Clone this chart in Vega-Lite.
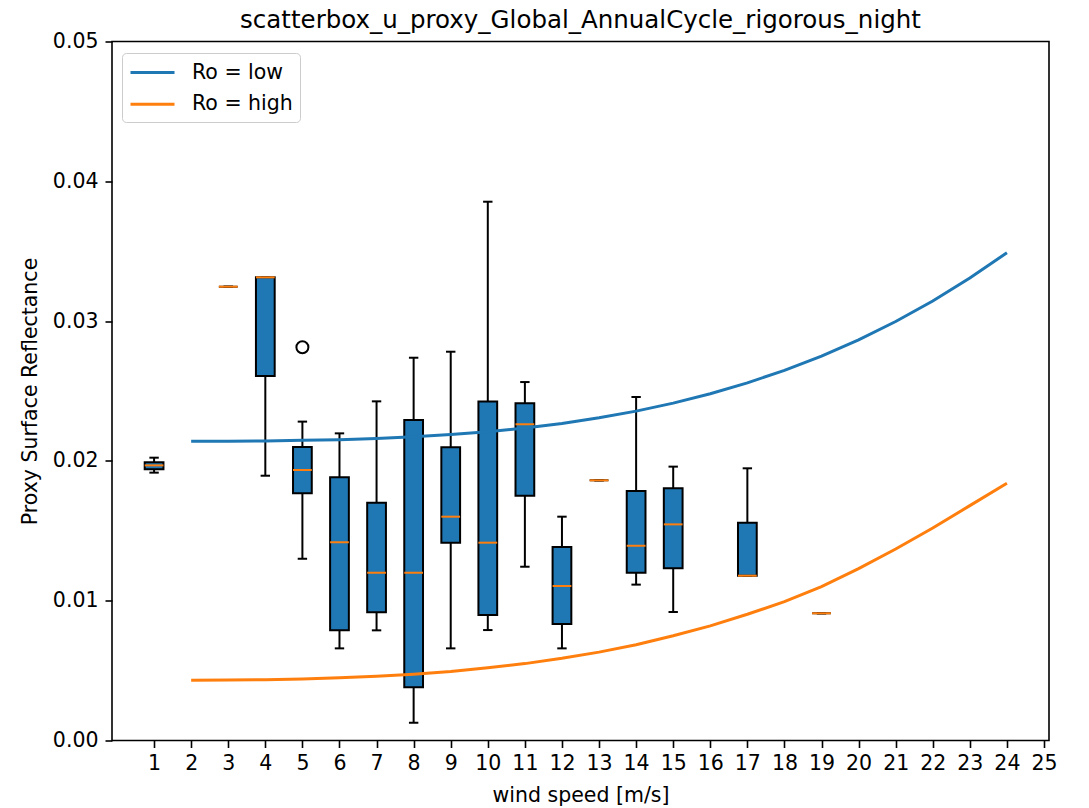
{
  "$schema": "https://vega.github.io/schema/vega-lite/v6.json",
  "width": 937,
  "height": 699,
  "autosize": {"type": "none"},
  "padding": {"left": 112, "top": 41.5, "right": 40, "bottom": 67.5},
  "background": "white",
  "title": {
    "text": "scatterbox_u_proxy_Global_AnnualCycle_rigorous_night",
    "font": "DejaVu Sans",
    "fontSize": 24.5,
    "fontWeight": "normal",
    "color": "black",
    "anchor": "middle",
    "offset": -2
  },
  "config": {
    "view": {"stroke": "black", "strokeWidth": 1.6},
    "axis": {
      "domain": false,
      "grid": false,
      "ticks": true,
      "tickColor": "black",
      "tickWidth": 1.6,
      "tickSize": 7,
      "labelOverlap": false,
      "labelFlush": false,
      "labelFont": "DejaVu Sans",
      "labelFontSize": 20.5,
      "labelColor": "black",
      "titleFont": "DejaVu Sans",
      "titleFontSize": 20.5,
      "titleFontWeight": "normal",
      "titleColor": "black"
    },
    "legend": {
      "orient": "none",
      "legendX": 10,
      "legendY": 11.5,
      "padding": 7,
      "strokeColor": "#cccccc",
      "cornerRadius": 4,
      "fillColor": "white",
      "labelFont": "DejaVu Sans",
      "labelFontSize": 20.5,
      "labelColor": "black",
      "symbolType": "M-2,0H2",
      "symbolSize": 484,
      "symbolOffset": 11,
      "symbolStrokeWidth": 3,
      "rowPadding": 8.7,
      "labelOffset": 27
    }
  },
  "datasets": {
    "boxes": [
      {"speed": 1, "lo": 0.01916, "q1": 0.0194, "med": 0.01968, "q3": 0.0199, "hi": 0.02023},
      {"speed": 3, "lo": 0.03246, "q1": 0.03246, "med": 0.03246, "q3": 0.03246, "hi": 0.03246},
      {"speed": 4, "lo": 0.01894, "q1": 0.02607, "med": 0.03313, "q3": 0.03313, "hi": 0.03313},
      {"speed": 5, "lo": 0.0130, "q1": 0.01768, "med": 0.01935, "q3": 0.02099, "hi": 0.02281},
      {"speed": 6, "lo": 0.00659, "q1": 0.00788, "med": 0.01418, "q3": 0.01883, "hi": 0.02197},
      {"speed": 7, "lo": 0.00788, "q1": 0.00917, "med": 0.0120, "q3": 0.01701, "hi": 0.02426},
      {"speed": 8, "lo": 0.00127, "q1": 0.00381, "med": 0.0120, "q3": 0.02293, "hi": 0.02738},
      {"speed": 9, "lo": 0.00659, "q1": 0.01415, "med": 0.01601, "q3": 0.02097, "hi": 0.02781},
      {"speed": 10, "lo": 0.0079, "q1": 0.00898, "med": 0.01415, "q3": 0.02424, "hi": 0.03854},
      {"speed": 11, "lo": 0.01243, "q1": 0.01751, "med": 0.02262, "q3": 0.02412, "hi": 0.02564},
      {"speed": 12, "lo": 0.00659, "q1": 0.00833, "med": 0.01105, "q3": 0.01384, "hi": 0.01601},
      {"speed": 13, "lo": 0.01861, "q1": 0.01861, "med": 0.01861, "q3": 0.01861, "hi": 0.01861},
      {"speed": 14, "lo": 0.01115, "q1": 0.0120, "med": 0.01393, "q3": 0.01785, "hi": 0.02457},
      {"speed": 15, "lo": 0.00919, "q1": 0.01232, "med": 0.01546, "q3": 0.01804, "hi": 0.01959},
      {"speed": 17, "lo": 0.01179, "q1": 0.01179, "med": 0.01179, "q3": 0.01558, "hi": 0.01947},
      {"speed": 19, "lo": 0.0091, "q1": 0.0091, "med": 0.0091, "q3": 0.0091, "hi": 0.0091}
    ],
    "outliers": [
      {"speed": 5, "value": 0.02813}
    ],
    "curves": [
      {"series": "Ro = low", "speed": 2, "value": 0.0214},
      {"series": "Ro = low", "speed": 3, "value": 0.02141},
      {"series": "Ro = low", "speed": 4, "value": 0.02143},
      {"series": "Ro = low", "speed": 5, "value": 0.02147},
      {"series": "Ro = low", "speed": 6, "value": 0.02152},
      {"series": "Ro = low", "speed": 7, "value": 0.0216},
      {"series": "Ro = low", "speed": 8, "value": 0.02172},
      {"series": "Ro = low", "speed": 9, "value": 0.02188},
      {"series": "Ro = low", "speed": 10, "value": 0.02209},
      {"series": "Ro = low", "speed": 11, "value": 0.02235},
      {"series": "Ro = low", "speed": 12, "value": 0.02268},
      {"series": "Ro = low", "speed": 13, "value": 0.02308},
      {"series": "Ro = low", "speed": 14, "value": 0.02356},
      {"series": "Ro = low", "speed": 15, "value": 0.02413},
      {"series": "Ro = low", "speed": 16, "value": 0.0248},
      {"series": "Ro = low", "speed": 17, "value": 0.02558},
      {"series": "Ro = low", "speed": 18, "value": 0.02648},
      {"series": "Ro = low", "speed": 19, "value": 0.0275},
      {"series": "Ro = low", "speed": 20, "value": 0.02866},
      {"series": "Ro = low", "speed": 21, "value": 0.02997},
      {"series": "Ro = low", "speed": 22, "value": 0.03144},
      {"series": "Ro = low", "speed": 23, "value": 0.03308},
      {"series": "Ro = low", "speed": 24, "value": 0.03489},
      {"series": "Ro = high", "speed": 2, "value": 0.00431},
      {"series": "Ro = high", "speed": 3, "value": 0.00432},
      {"series": "Ro = high", "speed": 4, "value": 0.00435},
      {"series": "Ro = high", "speed": 5, "value": 0.0044},
      {"series": "Ro = high", "speed": 6, "value": 0.00448},
      {"series": "Ro = high", "speed": 7, "value": 0.00459},
      {"series": "Ro = high", "speed": 8, "value": 0.00474},
      {"series": "Ro = high", "speed": 9, "value": 0.00494},
      {"series": "Ro = high", "speed": 10, "value": 0.0052},
      {"series": "Ro = high", "speed": 11, "value": 0.0055},
      {"series": "Ro = high", "speed": 12, "value": 0.00588},
      {"series": "Ro = high", "speed": 13, "value": 0.00632},
      {"series": "Ro = high", "speed": 14, "value": 0.00685},
      {"series": "Ro = high", "speed": 15, "value": 0.00749},
      {"series": "Ro = high", "speed": 16, "value": 0.0082},
      {"series": "Ro = high", "speed": 17, "value": 0.00903},
      {"series": "Ro = high", "speed": 18, "value": 0.00993},
      {"series": "Ro = high", "speed": 19, "value": 0.011},
      {"series": "Ro = high", "speed": 20, "value": 0.0123},
      {"series": "Ro = high", "speed": 21, "value": 0.0137},
      {"series": "Ro = high", "speed": 22, "value": 0.0152},
      {"series": "Ro = high", "speed": 23, "value": 0.0168},
      {"series": "Ro = high", "speed": 24, "value": 0.0184}
    ]
  },
  "layer": [
    {
      "data": {"name": "boxes"},
      "mark": {"type": "rule", "color": "black", "strokeWidth": 2},
      "encoding": {
        "x": {
          "field": "speed",
          "type": "quantitative",
          "scale": {"domain": [0, 25], "nice": false, "zero": false},
          "axis": {
            "values": [1, 2, 3, 4, 5, 6, 7, 8, 9, 10, 11, 12, 13, 14, 15, 16, 17, 18, 19, 20, 21, 22, 23, 24, 25],
            "tickCount": 30,
            "title": "wind speed [m/s]",
            "labelPadding": 6,
            "labelOverlap": false,
            "titleBaseline": "middle",
            "titleY": 54.5
          }
        },
        "y": {
          "field": "lo",
          "type": "quantitative",
          "scale": {"domain": [0, 0.05], "nice": false, "zero": false},
          "axis": {
            "values": [0, 0.01, 0.02, 0.03, 0.04, 0.05],
            "tickCount": 10,
            "format": ".2f",
            "title": "Proxy Surface Reflectance",
            "labelPadding": 7,
            "labelOverlap": false,
            "titleBaseline": "middle",
            "titleX": -82
          }
        },
        "y2": {"field": "hi"}
      }
    },
    {
      "data": {"name": "boxes"},
      "mark": {"type": "tick", "orient": "horizontal", "color": "black", "size": 9.4, "thickness": 2, "opacity": 1},
      "encoding": {
        "x": {"field": "speed", "type": "quantitative"},
        "y": {"field": "lo", "type": "quantitative"}
      }
    },
    {
      "data": {"name": "boxes"},
      "mark": {"type": "tick", "orient": "horizontal", "color": "black", "size": 9.4, "thickness": 2, "opacity": 1},
      "encoding": {
        "x": {"field": "speed", "type": "quantitative"},
        "y": {"field": "hi", "type": "quantitative"}
      }
    },
    {
      "data": {"name": "boxes"},
      "mark": {"type": "bar", "size": 18.75, "fill": "#1f77b4", "stroke": "black", "strokeWidth": 2},
      "encoding": {
        "x": {"field": "speed", "type": "quantitative"},
        "y": {"field": "q1", "type": "quantitative"},
        "y2": {"field": "q3"}
      }
    },
    {
      "data": {"name": "boxes"},
      "mark": {"type": "tick", "orient": "horizontal", "color": "#ff7f0e", "size": 18.75, "thickness": 2, "opacity": 1},
      "encoding": {
        "x": {"field": "speed", "type": "quantitative"},
        "y": {"field": "med", "type": "quantitative"}
      }
    },
    {
      "data": {"name": "outliers"},
      "mark": {"type": "point", "shape": "circle", "filled": false, "size": 144, "color": "black", "strokeWidth": 2, "opacity": 1},
      "encoding": {
        "x": {"field": "speed", "type": "quantitative"},
        "y": {"field": "value", "type": "quantitative"}
      }
    },
    {
      "data": {"name": "curves"},
      "mark": {"type": "line", "strokeWidth": 3},
      "encoding": {
        "x": {"field": "speed", "type": "quantitative"},
        "y": {"field": "value", "type": "quantitative"},
        "color": {
          "field": "series",
          "type": "nominal",
          "scale": {"domain": ["Ro = low", "Ro = high"], "range": ["#1f77b4", "#ff7f0e"]},
          "legend": {"title": null}
        }
      }
    }
  ]
}
